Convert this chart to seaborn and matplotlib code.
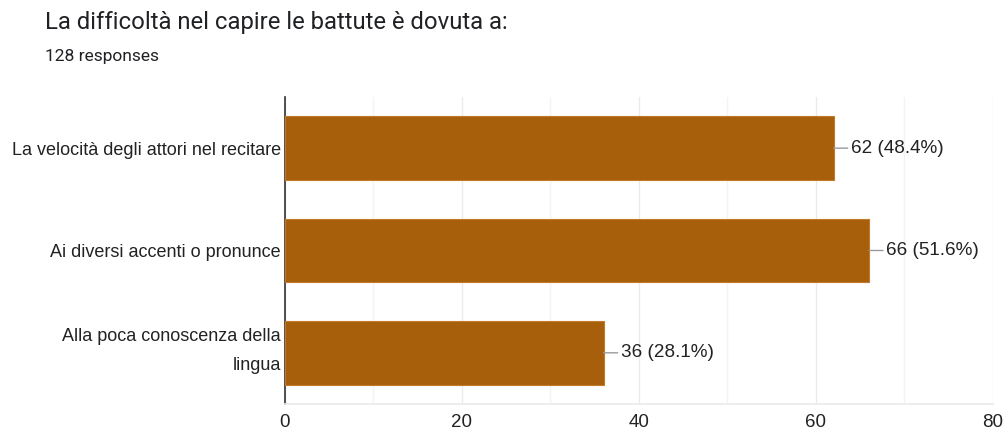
import matplotlib
matplotlib.use("Agg")
import matplotlib.pyplot as plt
import matplotlib.transforms as mtransforms
import seaborn as sns
import pandas as pd
from matplotlib.ticker import MultipleLocator

categories = ["La velocità degli attori nel recitare",
              "Ai diversi accenti o pronunce",
              "Alla poca conoscenza della\nlingua"]
counts = [62, 66, 36]
total = 128
title = "La difficoltà nel capire le battute è dovuta a:"
subtitle = "128 responses"
xticks = [0, 20, 40, 60, 80]

df = pd.DataFrame({"cat": categories, "n": counts})

sns.set_theme(style="white")
plt.rcParams['font.family'] = ['Liberation Sans', 'DejaVu Sans']

fig = plt.figure(figsize=(10.08, 4.33), dpi=100)
ax = fig.add_axes([0.2827, 0.067, 0.985 - 0.2827, 0.776 - 0.067])

sns.barplot(data=df, x="n", y="cat", color="#A85F0C", saturation=1,
            width=0.62, ax=ax, edgecolor="#C07A2A", linewidth=0.8, zorder=3)

ax.set_xlim(0, 80)
ax.set_xticks(xticks)
ax.xaxis.set_minor_locator(MultipleLocator(10))
ax.grid(axis="x", which="major", color="#EBEBEB", linewidth=1, zorder=0)
ax.grid(axis="x", which="minor", color="#F4F4F4", linewidth=1, zorder=0)
ax.set_axisbelow(True)
ax.set_xlabel("")
ax.set_ylabel("")
for s in ["top", "right"]:
    ax.spines[s].set_visible(False)
ax.spines["bottom"].set_color("#EBEBEB")
ax.spines["left"].set_color("#333333")
ax.spines["left"].set_linewidth(1.2)
ax.tick_params(axis="x", labelsize=13.5, colors="#222222", pad=7, length=0)
ax.tick_params(axis="y", labelsize=13, colors="#222222", pad=3, length=0)
for t in ax.get_yticklabels():
    t.set_horizontalalignment("right")
    t.set_multialignment("right")
    if "\n" in t.get_text():
        t.set_linespacing(1.9)
        t.set_transform(t.get_transform() + mtransforms.ScaledTranslation(
            0, 10 / 100, fig.dpi_scale_trans))

for i, v in enumerate(counts):
    ax.annotate(f"{v} ({v / total * 100:.1f}%)", xy=(v, i), xytext=(12.5, 0),
                textcoords="offset points", va="center", ha="left",
                fontsize=13.6, color="#222222",
                arrowprops=dict(arrowstyle="-", color="#999999", lw=1,
                                shrinkA=0, shrinkB=0))

fig.text(45 / 1008, 1 - 23 / 433, title, fontsize=17.2, family="Roboto",
         color="#202124", va="center", ha="left")
fig.text(45 / 1008, 1 - 57 / 433, subtitle, fontsize=12.5, family="Roboto",
         color="#202124", va="center", ha="left")

fig.savefig("out.png", dpi=100)
